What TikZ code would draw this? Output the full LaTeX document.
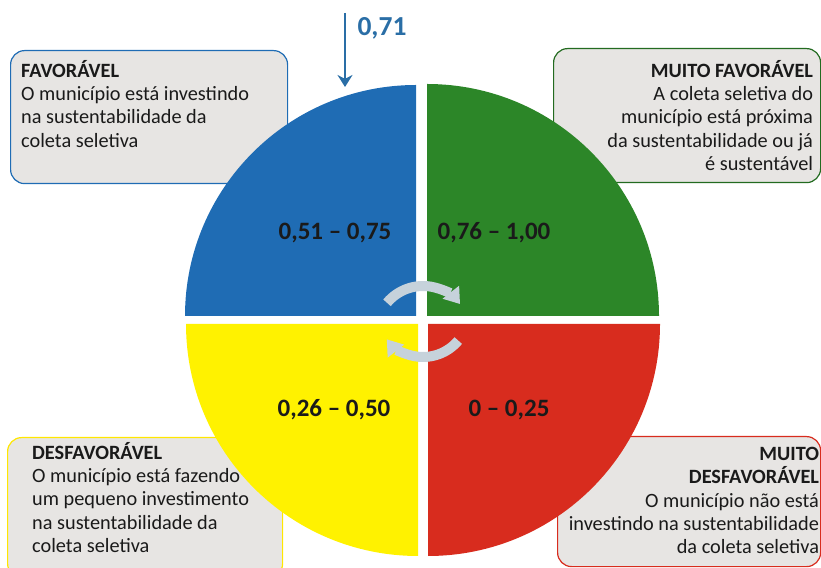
\documentclass[tikz,border=0pt]{standalone}
\usepackage{fontspec}
\setmainfont{Carlito}
\usetikzlibrary{arrows.meta,positioning,calc}
\definecolor{qblue}{HTML}{1F6CB4}
\definecolor{qgreen}{HTML}{2C8628}
\definecolor{qyellow}{HTML}{FFF200}
\definecolor{qred}{HTML}{D82C1E}
\definecolor{boxgray}{HTML}{E7E5E3}
\definecolor{textdark}{HTML}{1A1A1A}
\definecolor{turngray}{HTML}{C6D2DB}
\definecolor{markblue}{HTML}{2A6EA6}
\tikzset{
	infobox/.style={
		rectangle,
		rounded corners=14pt,
		draw,
		line width=1.2pt,
		fill=boxgray,
		anchor=north west,
		inner sep=0pt,
	},
	boxtext/.style={
		inner sep=0pt,
		font=\fontsize{20.3}{23.3}\selectfont,
		text=textdark,
	},
	rangelabel/.style={
		font=\fontsize{25}{30}\selectfont\bfseries,
		text=textdark,
	},
	turn/.style={
		line width=10pt,
		draw=turngray,
		-{Triangle[width=20pt,length=15pt]},
	},
	pointer/.style={
		line width=2.6pt,
		draw=markblue,
		-{Stealth[width=15pt,length=12pt]},
	}
}

\begin{document}
\begin{tikzpicture}[x=1pt,y=1pt]
\useasboundingbox (0,0) rectangle (821,567);

\node[infobox,draw=qblue,minimum width=277pt,minimum height=133pt] (fav) at (10,517) {};
\node[infobox,draw=qgreen!80!black,minimum width=267pt,minimum height=134pt] (mfav) at (553,519) {};
\node[infobox,draw=qyellow!90!orange,minimum width=275pt,minimum height=140pt] (desf) at (7,130) {};
\node[infobox,draw=qred,minimum width=263pt,minimum height=130pt] (mdesf) at (557,131) {};

\fill[qblue] (416,251) -- ++(-231,0) arc[start angle=180,end angle=90,radius=231] -- cycle;
\fill[qgreen] (427,251) -- ++(0,232) arc[start angle=90,end angle=0,radius=232] -- cycle;
\fill[qyellow] (418,243) -- ++(-232,0) arc[start angle=180,end angle=270,radius=232] -- cycle;
\fill[qred] (428,243) -- ++(232,0) arc[start angle=0,end angle=-90,radius=232] -- cycle;

\node[boxtext,anchor=north west,align=left] (favtext) at ($(fav.north west)+(11,-10)$)
  {\textbf{FAVORÁVEL}\\O município está investindo\\na sustentabilidade da\\coleta seletiva};
\node[boxtext,anchor=north east,align=right] (mfavtext) at ($(mfav.north east)+(-8,-12)$)
  {\textbf{MUITO FAVORÁVEL}\\A coleta seletiva do\\município está próxima\\da sustentabilidade ou já\\é sustentável};
\node[boxtext,anchor=north west,align=left] (desftext) at ($(desf.north west)+(25,-5)$)
  {\textbf{DESFAVORÁVEL}\\O município está fazendo\\um pequeno investimento\\na sustentabilidade da\\coleta seletiva};
\node[boxtext,anchor=north east,align=right] (mdesftext) at ($(mdesf.north east)+(-2,-11)$)
  {\textbf{MUITO}\\\textbf{DESFAVORÁVEL}\\O município não está\\investindo na sustentabilidade\\da coleta seletiva};

\node[rangelabel] (rfav) at (335,334) {0,51 -- 0,75};
\node[rangelabel] (rmfav) at (494,334) {0,76 -- 1,00};
\node[rangelabel] (rdesf) at (334,157) {0,26 -- 0,50};
\node[rangelabel] (rmdesf) at (509,157) {0 -- 0,25};

\coordinate (hubtop) at (423,234);
\coordinate (hubbottom) at (423,256);
\draw[turn] ($(hubtop)+(140:47)$) arc[start angle=140,end angle=38,radius=47];
\draw[turn] ($(hubbottom)+(-40:46)$) arc[start angle=-40,end angle=-142,radius=46];

\node[font=\fontsize{27.5}{32}\selectfont\bfseries,text=markblue] (score) at (382,539) {0,71};
\coordinate (scoretop) at (345,554);
\coordinate (scoretip) at (345,480);
\draw[pointer] (scoretop) -- (scoretip);

\end{tikzpicture}
\end{document}
